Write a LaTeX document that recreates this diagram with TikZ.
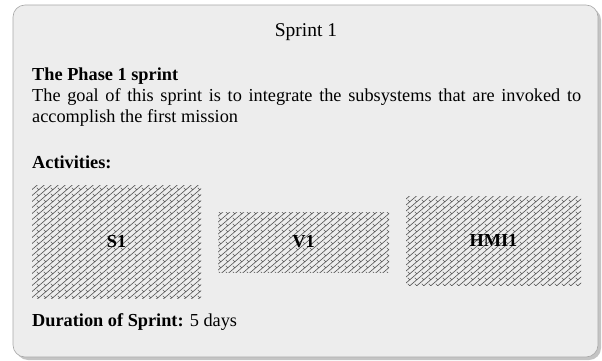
\documentclass[tikz,border=0pt]{standalone}
\usepackage{fontspec}
\setmainfont{Liberation Serif}
\usetikzlibrary{patterns}
\definecolor{panel}{HTML}{EDEDED}
\definecolor{panelrule}{HTML}{A8A8A8}
\definecolor{shadowc}{HTML}{C4C4C4}
\definecolor{hatch}{HTML}{5A5A5A}
\pgfdeclarepatternformonly{weave}{\pgfqpoint{-1pt}{-1pt}}{\pgfqpoint{8pt}{7pt}}{\pgfqpoint{7pt}{6pt}}{
  \pgfsetlinewidth{0.65pt}
  \pgfpathmoveto{\pgfqpoint{0pt}{0pt}}\pgfpathlineto{\pgfqpoint{7pt}{6pt}}
  \pgfpathmoveto{\pgfqpoint{1.8pt}{5.2pt}}\pgfpathlineto{\pgfqpoint{3.6pt}{3.4pt}}
  \pgfusepath{stroke}}
\tikzset{
  bodytext/.style={inner sep=0pt, font=\fontsize{18.3}{21}\selectfont},
  headtext/.style={inner sep=0pt, font=\fontsize{18.3}{21}\selectfont\bfseries},
  titletext/.style={inner sep=0pt, font=\fontsize{19.5}{21}\selectfont},
  hatchfill/.style={draw=none, pattern=weave, pattern color=hatch},
  boxlabel/.style={inner sep=0pt, font=\fontsize{18.3}{21}\selectfont\bfseries}
}
\begin{document}
\begin{tikzpicture}[x=1pt,y=-1pt]
\useasboundingbox (0,0) rectangle (602,361);
\fill[shadowc, rounded corners=12pt] (16,8) rectangle (601,360);
\draw[panelrule, fill=panel, line width=0.6pt, rounded corners=12pt] (13,5) rectangle (598,357);
\node[titletext, anchor=base] (title) at (306,37) {Sprint 1};
\node[headtext, anchor=base west] (phase) at (32,80) {The Phase 1 sprint};
\node[bodytext, anchor=base west, text width=549pt, align=justify] (goal) at (32,101)
  {The goal of this sprint is to integrate the subsystems that are invoked to accomplish the first mission};
\node[headtext, anchor=base west] (act) at (32,168) {Activities:};
\path[hatchfill] (32,185) rectangle (201,298);
\node[boxlabel] (s1) at (116.5,241.5) {S1};
\path[hatchfill] (218,212) rectangle (389,272);
\node[boxlabel] (v1) at (303.5,242) {V1};
\path[hatchfill] (406,196) rectangle (581,285);
\node[boxlabel] (hmi1) at (493.5,240.5) {HMI1};
\node[bodytext, anchor=base west] (dur) at (32,326) {\textbf{Duration of Sprint:} 5 days};
\end{tikzpicture}
\end{document}
